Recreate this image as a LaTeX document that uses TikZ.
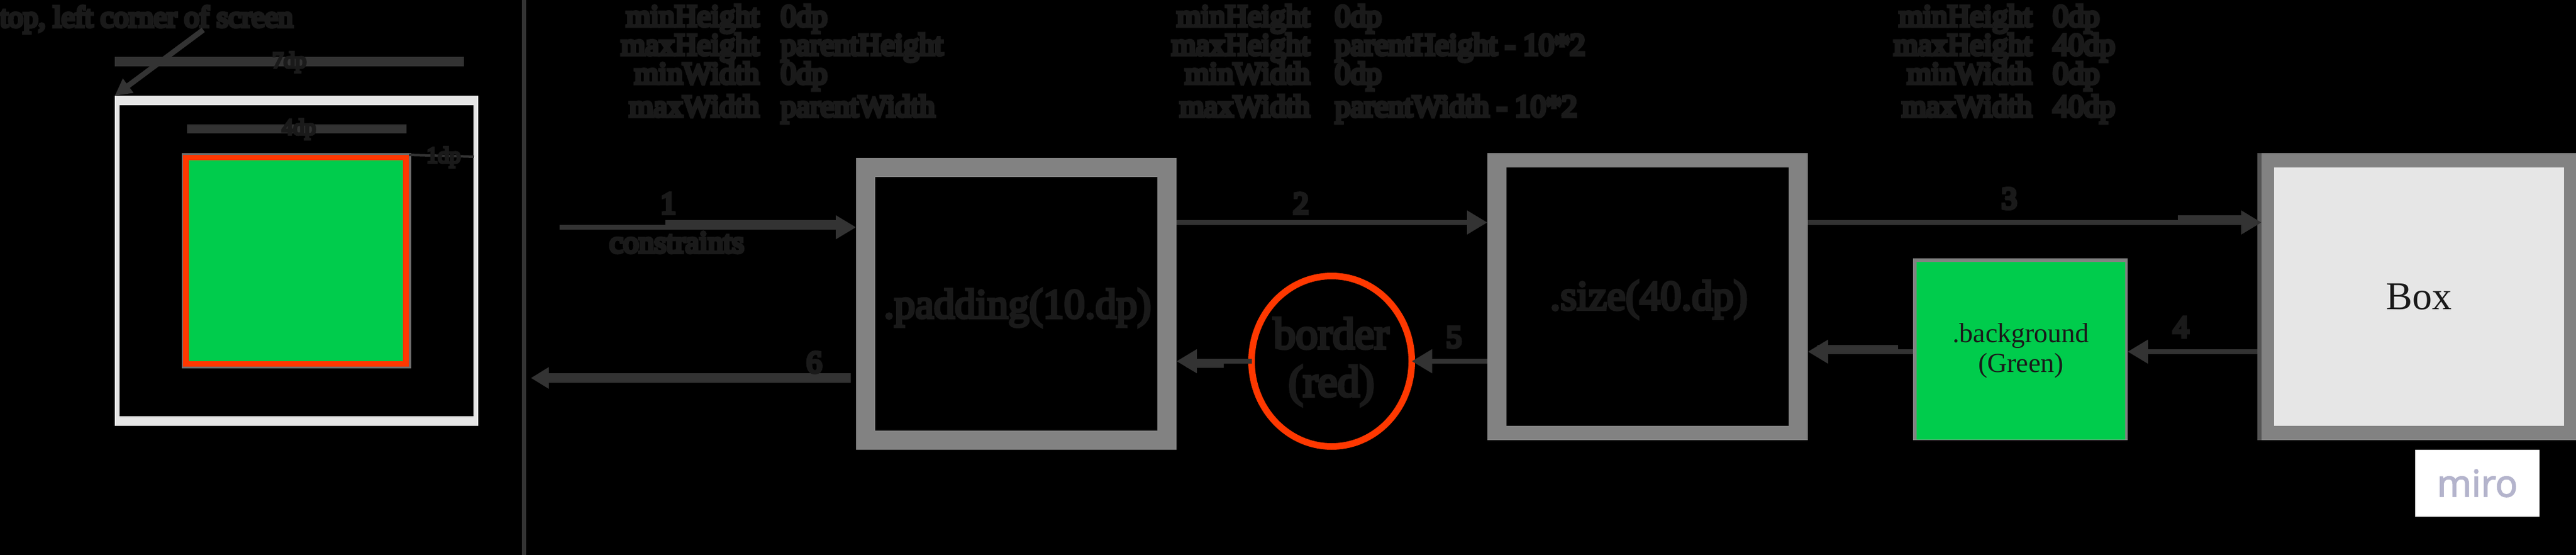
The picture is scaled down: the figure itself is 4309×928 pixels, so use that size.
\documentclass[tikz,border=0pt]{standalone}
\usepackage{fontspec}
\setmainfont{Liberation Serif}
\newfontfamily\blobfont[FakeBold=6]{Liberation Serif}
\newfontfamily\blobsmall[FakeBold=10]{Liberation Serif}
\newfontfamily\mirofont[FakeBold=2.5]{Open Sans}
\usetikzlibrary{arrows.meta,shapes.geometric}
\definecolor{dimtext}{HTML}{1A1A1A}
\definecolor{lineclr}{HTML}{333333}
\definecolor{framegray}{HTML}{828282}
\definecolor{palefill}{HTML}{E6E6E6}
\definecolor{redclr}{HTML}{FF3800}
\definecolor{greenclr}{HTML}{00CC4C}
\definecolor{miroclr}{HTML}{B4B4CC}
\tikzset{
  x=1pt,y=-1pt,
  plate/.style={rectangle,inner sep=0pt,outer sep=0pt,minimum width=#1},
  small/.style={inner sep=0pt,outer sep=0pt,text=dimtext,font=\blobsmall\fontsize{52}{60}\selectfont},
  tinyish/.style={small,font=\blobsmall\fontsize{38}{44}\selectfont},
  big/.style={inner sep=0pt,outer sep=0pt,text=dimtext,align=center,font=\blobfont\fontsize{70}{80}\selectfont},
  conn/.style={draw=lineclr,line width=8pt},
  arrowed/.style={conn,-{Triangle[length=34pt,width=38pt,fill=lineclr]}},
  heavy/.style={draw=lineclr,line width=#1},
}
\begin{document}
\begin{tikzpicture}
\path[fill=black] (0,0) rectangle (4309,928);
\useasboundingbox (0,0) rectangle (4309,928);

% screen sketch
\coordinate (divtop) at (876.5,0);
\coordinate (divbot) at (876.5,928);
\draw[heavy=7.5pt] (divtop) -- (divbot);
\node[plate=608pt,minimum height=552pt,fill=palefill] (screen) at (496,436) {};
\node[plate=592pt,minimum height=520pt,fill=black] (screenin) at (496,436) {};
\node[plate=384pt,minimum height=360pt,fill=framegray!85!black] (sample) at (496,436) {};
\node[plate=378pt,minimum height=354pt,fill=redclr] (samplered) at (495,436) {};
\node[plate=358pt,minimum height=336pt,fill=greenclr] (samplegreen) at (495,436) {};

\coordinate (wa) at (192,103.5);
\coordinate (wb) at (776,103.5);
\draw[heavy=16pt] (wa) -- (wb);
\node[tinyish] (lsev) at (484,104) {7dp};
\coordinate (ia) at (313,215.5);
\coordinate (ib) at (680,215.5);
\draw[heavy=15pt] (ia) -- (ib);
\node[tinyish] (lfour) at (500,216) {4dp};
\coordinate (pa) at (684,259);
\coordinate (pb) at (793,262);
\draw[heavy=4pt] (pa) -- (pb);
\node[tinyish] (lone) at (742,263) {1dp};

\node[small,anchor=base west,font=\blobsmall\fontsize{50}{58}\selectfont] (corner) at (0,45) {top, left corner of screen};
\coordinate (cornerfrom) at (340,50);
\draw[heavy=9pt,-{Triangle[length=28pt,width=28pt,fill=lineclr]}] (cornerfrom) -- (screen.north west);

% constraint tables
\foreach \nm/\lab/\val/\yy in {
  a/minHeight/0dp/44, b/maxHeight/parentHeight/92, c/minWidth/0dp/140, d/maxWidth/parentWidth/195}{
  \node[small,anchor=base east] (ta\nm) at (1270,\yy) {\lab};
  \node[small,anchor=base west] (va\nm) at (1306,\yy) {\val};
}
\foreach \nm/\lab/\val/\yy in {
  a/minHeight/0dp/44, b/maxHeight/parentHeight - 10*2/92, c/minWidth/0dp/140, d/maxWidth/parentWidth - 10*2/195}{
  \node[small,anchor=base east] (tb\nm) at (2191,\yy) {\lab};
  \node[small,anchor=base west] (vb\nm) at (2233,\yy) {\val};
}
\foreach \nm/\lab/\val/\yy in {
  a/minHeight/0dp/44, b/maxHeight/40dp/92, c/minWidth/0dp/140, d/maxWidth/40dp/195}{
  \node[small,anchor=base east] (tc\nm) at (3399,\yy) {\lab};
  \node[small,anchor=base west] (vc\nm) at (3434,\yy) {\val};
}

% main boxes
\node[plate=536pt,minimum height=488pt,fill=framegray] (padbox) at (1700,508) {};
\node[plate=472pt,minimum height=424pt,fill=black] (padin) at (1700,508) {};
\node[big] (padtext) at (1702,515) {.padding(10.dp)};

\node[plate=536pt,minimum height=480pt,fill=framegray] (sizebox) at (2756,496) {};
\node[plate=472pt,minimum height=432pt,fill=black] (sizein) at (2756,496) {};
\node[big] (sizetext) at (2758,501) {.size(40.dp)};

\node[ellipse,inner sep=0pt,outer sep=0pt,minimum width=268pt,minimum height=285pt,
  draw=redclr,line width=11pt] (border) at (2227.5,604) {};
\node[big,font=\blobfont\fontsize{74}{80}\selectfont] (bordertext) at (2227,605) {border\\(red)};

\node[plate=359pt,minimum height=304pt,fill=framegray] (bgbox) at (3379.5,584) {};
\node[plate=349pt,minimum height=297pt,fill=greenclr,text=dimtext,align=center,
  font=\fontsize{46}{50}\selectfont] (bgin) at (3380.5,586.5) {.background\\(Green)};

\node[plate=533pt,minimum height=480pt,fill=framegray] (boxouter) at (4042.5,496) {};
\node[plate=7pt,minimum height=480pt,fill=framegray!65!black] (boxstrip) at (3779.5,496) {};
\node[plate=485pt,minimum height=432pt,fill=palefill,text=dimtext,
  font=\fontsize{66}{76}\selectfont] (boxin) at (4046.5,496) {Box};

\node[plate=208pt,minimum height=112pt,fill=white,text=miroclr,
  font=\mirofont\fontsize{62}{70}\selectfont] (miro) at (4144,808) {miro};

% forward connectors
\coordinate (inleft) at (936,380);
\draw[arrowed] (inleft) -- (inleft -| padbox.west);
\draw[heavy=16pt] (1113,376) -- (1402,376);
\draw[arrowed] (padbox.east |- 0,372) -- (sizebox.west |- 0,372);
\draw[arrowed] (sizebox.east |- 0,372) -- (boxstrip.east |- 0,372);
\draw[heavy=16pt] (3643,368) -- (3762,368);

% returning connectors
\draw[arrowed] (boxouter.west |- 0,588) -- (bgbox.east |- 0,588);
\draw[arrowed] (bgbox.west |- 0,588) -- (sizebox.east |- 0,588);
\draw[heavy=14pt] (3175,584) -- (3040,584);
\draw[arrowed] (sizebox.west |- 0,604) -- (border.east |- 0,604);
\draw[arrowed] (border.west |- 0,604) -- (padbox.east |- 0,604);
\draw[heavy=14pt] (2047,607.5) -- (1985,607.5);
\coordinate (outleft) at (888,632);
\draw[heavy=16pt,-{Triangle[length=30pt,width=34pt,fill=lineclr]}] (padbox.west |- 0,632) ++(-9,0) -- (outleft);

% flow labels
\node[small] (n1) at (1118,340) {1};
\node[small,anchor=north] (nconstraints) at (1132,388) {constraints};
\node[small] (n2) at (2176,340) {2};
\node[small] (n3) at (3361,332) {3};
\node[small] (n4) at (3648,547) {4};
\node[small] (n5) at (2432,564) {5};
\node[small] (n6) at (1362,606) {6};
\end{tikzpicture}
\end{document}
